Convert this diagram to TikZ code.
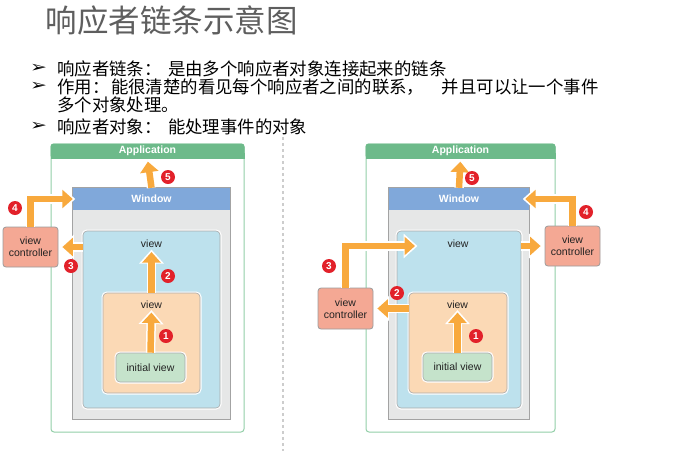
\documentclass[tikz,border=0pt]{standalone}
\usepackage{fontspec}
\setmainfont{Liberation Sans}
\newfontfamily\cjk{Noto Sans CJK SC}
\newfontfamily\djv[FakeStretch=1.3]{DejaVu Sans}
\usetikzlibrary{arrows.meta}
\definecolor{appgreen}{HTML}{6DBA8A}
\definecolor{appborder}{HTML}{93CFA8}
\definecolor{winblue}{HTML}{80A8DA}
\definecolor{wingray}{HTML}{E6E7E7}
\definecolor{winborder}{HTML}{A3A3A3}
\definecolor{viewblue}{HTML}{BDE1ED}
\definecolor{vieworange}{HTML}{FBD9B5}
\definecolor{initgreen}{HTML}{C5E3CB}
\definecolor{vcsalmon}{HTML}{F4A894}
\definecolor{vcedge}{HTML}{9C9C9C}
\definecolor{edgegray}{HTML}{A9A9A9}
\definecolor{arrorange}{HTML}{F8A93D}
\definecolor{badgered}{HTML}{E2212A}
\definecolor{titlegray}{HTML}{5E5E5E}
\definecolor{labeltext}{HTML}{222222}
\definecolor{sepgray}{HTML}{CDCDCD}
\tikzset{
  lbl/.style={font=\fontsize{10.5}{12}\selectfont, text=labeltext, inner sep=1pt},
  hdr/.style={font=\bfseries\fontsize{10.5}{12}\selectfont, text=white, inner sep=0pt},
  halo/.style={preaction={draw=white, line width=3pt}},
  viewbox/.style={halo, draw=edgegray, line width=0.6pt, rounded corners=4pt, inner sep=0pt},
  appbox/.style={draw=appborder, line width=1pt, fill=white, rounded corners=3pt, inner sep=0pt},
  winbox/.style={fill=wingray, inner sep=0pt},
  vcbox/.style={draw=vcedge, line width=0.8pt, fill=vcsalmon, rounded corners=3pt, align=center,
    font=\fontsize{10.5}{12}\selectfont, text=labeltext, inner sep=0pt},
  arrw/.style={draw=white, line width=9.5pt, -{Triangle[width=24pt,length=14pt]}},
  arro/.style={draw=arrorange, line width=6.5pt, -{Triangle[width=18pt,length=10.5pt]}},
  badge/.style={circle, fill=badgered, text=white, font=\bfseries\fontsize{10}{10}\selectfont,
    inner sep=0pt, minimum size=14pt},
  titletext/.style={font=\cjk\fontsize{31.5}{34}\selectfont, text=titlegray, anchor=base west, inner sep=0pt},
  bodytext/.style={font=\cjk\fontsize{17.4}{19}\selectfont, text=black, anchor=base west, inner sep=0pt},
  bul/.style={font=\djv\fontsize{15.5}{16}\selectfont, text=black, anchor=west, inner sep=0pt},
  sepline/.style={draw=sepgray, line width=2.5pt, dash pattern=on 2.5pt off 3.5pt}
}
\newcommand\flowarrow[3]{\draw[arrw, shorten >=#2] #3; \draw[arro, shorten >=#1] #3;}
\begin{document}
\begin{tikzpicture}[x=1pt,y=-1pt]
\fill[white] (0,0) rectangle (681,451);
\useasboundingbox (0,0) rectangle (681,451);

% title and bullets
\node[titletext] (title) at (45.7,32) {响应者链条示意图};
\node[bul] (bu1) at (30,68) {➢};
\node[bodytext] (t1) at (57,75) {响应者链条：\hspace{6.6pt}是由多个响应者对象连接起来的链条};
\node[bul] (bu2) at (30,86.5) {➢};
\node[bodytext] (t2) at (57,93) {作用：\hspace{1.8pt}能很清楚的看见每个响应者之间的联系，\hspace{17.6pt}并且可以让一个事件};
\node[bodytext] (t3) at (57,111.6) {多个对象处理。};
\node[bul] (bu4) at (30,126.5) {➢};
\node[bodytext] (t4) at (57,133) {响应者对象：\hspace{6.6pt}能处理事件的对象};

% separator
\coordinate (sepTop) at (283,137);
\coordinate (sepBot) at (283,451);
\draw[sepline] (sepTop) -- (sepBot);

% ================= LEFT =================
\node[appbox, minimum width=193pt, minimum height=288pt] (appL) at (147.5,288) {};
\fill[appgreen, rounded corners=3pt] (appL.north west) rectangle ([yshift=-15pt]appL.north east);
\fill[appgreen] ([yshift=-9pt]appL.north west) rectangle ([yshift=-15pt]appL.north east);
\node[hdr, minimum width=193pt, minimum height=15pt] (appLh) at ([yshift=-7.5pt]appL.north) {Application};

\node[winbox, minimum width=157pt, minimum height=231pt] (winL) at (151.5,303.5) {};
\node[hdr, fill=winblue, minimum width=157pt, minimum height=22pt] (winLh) at (151.5,199) {Window};
\draw[winborder, line width=1pt] (winL.north west) rectangle (winL.south east);

\node[viewbox, fill=viewblue, minimum width=137pt, minimum height=177pt] (blueL) at (151.5,319.5) {};
\node[lbl] (lvBL) at (151.5,244) {view};
\node[viewbox, fill=vieworange, minimum width=97pt, minimum height=100pt] (orangeL) at (151.5,343) {};
\node[lbl] (lvOL) at (151.5,304.5) {view};
\node[viewbox, fill=initgreen, minimum width=69pt, minimum height=29pt, font=\fontsize{10.5}{12}\selectfont, text=labeltext] (initL) at (150.5,367.5) {initial view};

\node[vcbox, minimum width=55pt, minimum height=40pt] (vcL) at (30.5,247) {view\\controller};

\flowarrow{3pt}{0.5pt}{(initL.north) -- (lvOL.south)}
\flowarrow{3pt}{0.5pt}{(orangeL.north) -- (lvBL.south)}
\flowarrow{4pt}{1.5pt}{(blueL.west |- vcL) -- (vcL.east)}
\flowarrow{0pt}{-2.5pt}{(vcL.north) |- (winLh.west)}
\flowarrow{3pt}{0.5pt}{(winLh.north) -- (appLh.south)}

\node[badge] (b1L) at (166,336) {1};
\node[badge] (b2L) at (168,276) {2};
\node[badge] (b3L) at (71,266) {3};
\node[badge] (b4L) at (15,208) {4};
\node[badge] (b5L) at (168,177) {5};

% ================= RIGHT =================
\node[appbox, minimum width=189pt, minimum height=288pt] (appR) at (460.5,288) {};
\fill[appgreen, rounded corners=3pt] (appR.north west) rectangle ([yshift=-15pt]appR.north east);
\fill[appgreen] ([yshift=-9pt]appR.north west) rectangle ([yshift=-15pt]appR.north east);
\node[hdr, minimum width=189pt, minimum height=15pt] (appRh) at ([yshift=-7.5pt]appR.north) {Application};

\node[winbox, minimum width=140pt, minimum height=231pt] (winR) at (459,303.5) {};
\node[hdr, fill=winblue, minimum width=140pt, minimum height=22pt] (winRh) at (459,199) {Window};
\draw[winborder, line width=1pt] (winR.north west) rectangle (winR.south east);

\node[viewbox, fill=viewblue, minimum width=124pt, minimum height=177pt] (blueR) at (459,319.5) {};
\node[lbl] (lvBR) at (458,244) {view};
\node[viewbox, fill=vieworange, minimum width=98pt, minimum height=100pt] (orangeR) at (458,343) {};
\node[lbl] (lvOR) at (457.5,304.5) {view};
\node[viewbox, fill=initgreen, minimum width=69pt, minimum height=28pt, font=\fontsize{10.5}{12}\selectfont, text=labeltext] (initR) at (457.5,367) {initial view};

\node[vcbox, minimum width=55pt, minimum height=41pt] (vcRL) at (345.5,308.5) {view\\controller};
\node[vcbox, minimum width=55pt, minimum height=40pt] (vcRR) at (572.5,246) {view\\controller};
\coordinate (tip3R) at (415,246);

\flowarrow{3pt}{0.5pt}{(initR.north) -- (lvOR.south)}
\flowarrow{4pt}{1.5pt}{(orangeR.west |- vcRL) -- (vcRL.east)}
\flowarrow{0pt}{-2.5pt}{(vcRL.north) |- (tip3R)}
\flowarrow{4pt}{1.5pt}{(blueR.east |- vcRR) -- (vcRR.west)}
\flowarrow{-4pt}{-6.5pt}{(vcRR.north) |- (winRh.east)}
\flowarrow{3pt}{0.5pt}{(winRh.north) -- (appRh.south)}

\node[badge] (b1R) at (476,336) {1};
\node[badge] (b2R) at (397,293) {2};
\node[badge] (b3R) at (329,266) {3};
\node[badge] (b4R) at (586,212) {4};
\node[badge] (b5R) at (472,178) {5};
\end{tikzpicture}
\end{document}
